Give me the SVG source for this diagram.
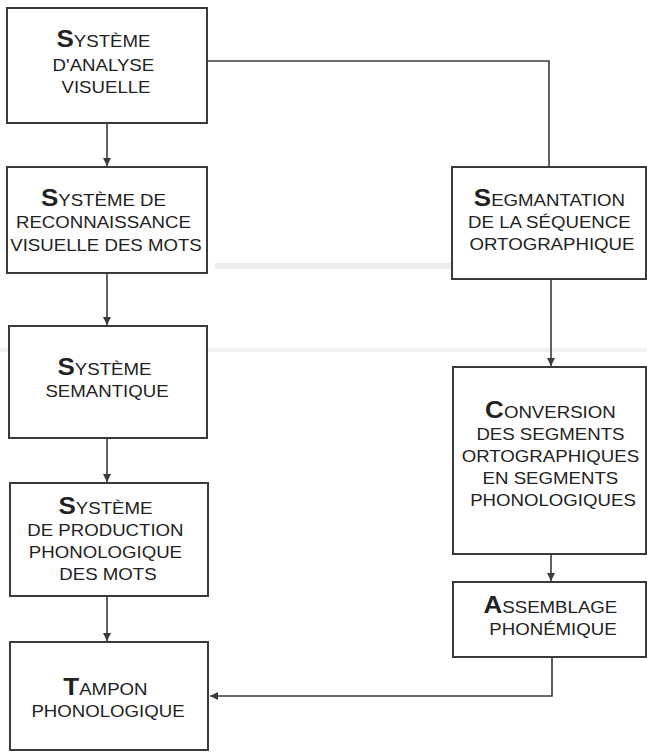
<svg xmlns="http://www.w3.org/2000/svg" width="647" height="753" viewBox="0 0 647 753">
<style>
  .box { fill: #ffffff; stroke: #3a3a3a; stroke-width: 2; }
  .lbl { font-family: "Liberation Sans", Arial, sans-serif; font-size: 16.5px; fill: #222222; text-anchor: middle; }
  .cap { font-size: 23px; font-weight: bold; }
  .wire { fill: none; stroke: #3a3a3a; stroke-width: 1.6; }
  .smudge { fill: #ececec; }
</style>
<defs>
  <marker id="arr" markerUnits="userSpaceOnUse" markerWidth="9" markerHeight="8" refX="8" refY="4" orient="auto">
    <path d="M0,0 L8,4 L0,8 Z" fill="#3a3a3a"/>
  </marker>
</defs>
<rect width="647" height="753" fill="#ffffff"/>
<g id="background">
  <rect class="smudge" x="215" y="263" width="430" height="6"/>
  <rect class="smudge" x="0" y="348" width="647" height="4" opacity="0.7"/>
</g>
<g id="connectors">
  <path class="wire" d="M207,61 H549 V167"/>
  <path class="wire" d="M107,123 V166" marker-end="url(#arr)"/>
  <path class="wire" d="M107,273 V325" marker-end="url(#arr)"/>
  <path class="wire" d="M107,438 V482" marker-end="url(#arr)"/>
  <path class="wire" d="M107,596 V641" marker-end="url(#arr)"/>
  <path class="wire" d="M551,279 V366" marker-end="url(#arr)"/>
  <path class="wire" d="M551,554 V581" marker-end="url(#arr)"/>
  <path class="wire" d="M552,657 V696 H210" marker-end="url(#arr)"/>
</g>
<g id="analyse-visuelle">
  <rect class="box" x="7" y="8" width="200" height="115"/>
  <text class="lbl" transform="translate(106 0) scale(1.13 1)">
    <tspan x="0" y="47"><tspan class="cap">S</tspan>YSTÈME</tspan>
    <tspan x="0" y="71">D'ANALYSE</tspan>
    <tspan x="0" y="93">VISUELLE</tspan>
  </text>
</g>
<g id="reconnaissance">
  <rect class="box" x="7" y="167" width="200" height="106"/>
  <text class="lbl" transform="translate(106 0) scale(1.13 1)">
    <tspan x="0" y="206"><tspan class="cap">S</tspan>YSTÈME DE</tspan>
    <tspan x="0" y="228">RECONNAISSANCE</tspan>
    <tspan x="0" y="251">VISUELLE DES MOTS</tspan>
  </text>
</g>
<g id="semantique">
  <rect class="box" x="9" y="326" width="198" height="112"/>
  <text class="lbl" transform="translate(107 0) scale(1.13 1)">
    <tspan x="0" y="375"><tspan class="cap">S</tspan>YSTÈME</tspan>
    <tspan x="0" y="397">SEMANTIQUE</tspan>
  </text>
</g>
<g id="production">
  <rect class="box" x="10" y="483" width="198" height="113"/>
  <text class="lbl" transform="translate(108 0) scale(1.13 1)">
    <tspan x="0" y="514"><tspan class="cap">S</tspan>YSTÈME</tspan>
    <tspan x="0" y="536">DE PRODUCTION</tspan>
    <tspan x="0" y="558">PHONOLOGIQUE</tspan>
    <tspan x="0" y="580">DES MOTS</tspan>
  </text>
</g>
<g id="tampon">
  <rect class="box" x="10" y="642" width="198" height="108"/>
  <text class="lbl" transform="translate(108 0) scale(1.13 1)">
    <tspan x="0" y="695"><tspan class="cap">T</tspan>AMPON</tspan>
    <tspan x="0" y="717">PHONOLOGIQUE</tspan>
  </text>
</g>
<g id="segmentation">
  <rect class="box" x="452" y="167" width="194" height="112"/>
  <text class="lbl" transform="translate(552 0) scale(1.13 1)">
    <tspan x="0" y="206"><tspan class="cap">S</tspan>EGMANTATION</tspan>
    <tspan x="0" y="228">DE LA SÉQUENCE</tspan>
    <tspan x="0" y="250">ORTOGRAPHIQUE</tspan>
  </text>
</g>
<g id="conversion">
  <rect class="box" x="453" y="367" width="193" height="187"/>
  <text class="lbl" transform="translate(553 0) scale(1.13 1)">
    <tspan x="0" y="418"><tspan class="cap">C</tspan>ONVERSION</tspan>
    <tspan x="0" y="440">DES SEGMENTS</tspan>
    <tspan x="0" y="462">ORTOGRAPHIQUES</tspan>
    <tspan x="0" y="484">EN SEGMENTS</tspan>
    <tspan x="0" y="506">PHONOLOGIQUES</tspan>
  </text>
</g>
<g id="assemblage">
  <rect class="box" x="453" y="582" width="193" height="75"/>
  <text class="lbl" transform="translate(553 0) scale(1.13 1)">
    <tspan x="0" y="613"><tspan class="cap">A</tspan>SSEMBLAGE</tspan>
    <tspan x="0" y="635">PHONÉMIQUE</tspan>
  </text>
</g>
</svg>
